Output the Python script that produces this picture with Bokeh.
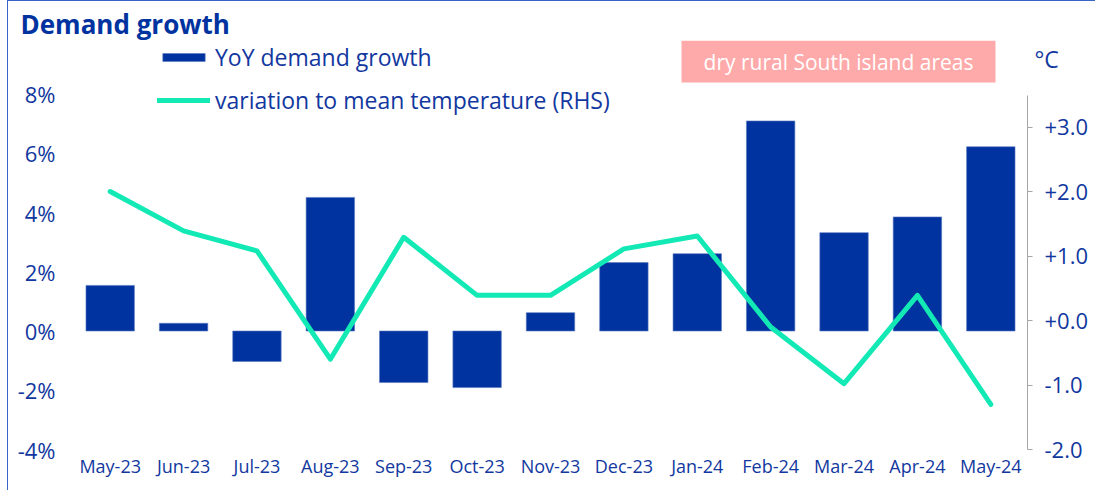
from bokeh.plotting import figure
from bokeh.models import (Range1d, LinearAxis, FixedTicker, CustomJSTickFormatter,
                          Legend, LegendItem, Label, BoxAnnotation, ColumnDataSource)
from bokeh.embed import file_html
from bokeh.resources import INLINE

# ---------------- data ----------------
months = ["May-23", "Jun-23", "Jul-23", "Aug-23", "Sep-23", "Oct-23", "Nov-23",
          "Dec-23", "Jan-24", "Feb-24", "Mar-24", "Apr-24", "May-24"]
demand_growth = [1.54, 0.26, -1.03, 4.51, -1.74, -1.91, 0.62, 2.31, 2.61, 7.09, 3.32, 3.85, 6.22]
temp_variation = [2.0, 1.39, 1.08, -0.60, 1.29, 0.39, 0.39, 1.11, 1.31, -0.10, -0.98, 0.39, -1.30]
left_ticks = [-4, -2, 0, 2, 4, 6, 8]
right_ticks = [-2, -1, 0, 1, 2, 3]

# ---------------- style ----------------
FONT = "Open Sans"
BLUE = "#0033A0"
TEXT = "#1238A0"
GREEN = "#12E9B4"
PINK = "#FFAAAA"
GRAY = "#A6A6A6"

# page-pixel geometry (annotations only)
FRAME_L, CAT_R, FRAME_EDGE = 73, 1027, 1095   # category area ends at CAT_R
FRAME_TOP, AXIS_BOT, FRAME_BOT = 40, 449, 490  # value axes end at AXIS_BOT
ZERO_L, PPU_L = 330.5, 29.625
ZERO_R, PPU_R = 320.0, 64.5
N = len(months)
PPX = (CAT_R - FRAME_L) / N

def px_x(px):
    return -0.5 + (px - FRAME_L) / PPX

def px_y(py):
    return (ZERO_L - py) / PPU_L

idx = list(range(N))
src = ColumnDataSource(dict(x=idx, demand=demand_growth, temp=temp_variation, m=months))

p = figure(frame_width=FRAME_EDGE - FRAME_L, frame_height=FRAME_BOT - FRAME_TOP,
           min_border_left=65, min_border_right=0,
           min_border_top=39, min_border_bottom=0,
           output_backend="svg", toolbar_location=None,
           x_range=Range1d(-0.5, px_x(FRAME_EDGE)),
           y_range=Range1d(px_y(FRAME_BOT), px_y(FRAME_TOP)))
p.extra_y_ranges = {"right": Range1d((ZERO_R - FRAME_BOT) / PPU_R, (ZERO_R - FRAME_TOP) / PPU_R)}
p.outline_line_color = None
p.xgrid.visible = False
p.ygrid.visible = False
p.background_fill_color = "white"
p.border_fill_color = "white"
p.styles = {"border-left": "1px solid #3A64C8", "border-top": "1px solid #3A64C8",
            "margin-left": "7px"}

# title
p.title.text = "Demand growth"
p.title.align = "left"
p.title.offset = 20 - FRAME_L
p.title.standoff = -3
p.title.text_font = FONT
p.title.text_font_size = "26px"
p.title.text_font_style = "bold"
p.title.text_color = BLUE

bars = p.vbar(x="x", top="demand", width=0.66, source=src, fill_color=BLUE,
              line_color="#5A78C0", line_width=0.6)
line = p.line(x="x", y="temp", source=src, y_range_name="right", line_color=GREEN,
              line_width=5, line_join="round", line_cap="round")

# x axis, pinned at the bottom of the value axes
xa = p.xaxis[0]
xa.fixed_location = left_ticks[0]
xa.ticker = FixedTicker(ticks=idx)
xa.major_label_overrides = {i: m for i, m in enumerate(months)}
xa.axis_line_color = None
xa.major_tick_line_color = None
xa.major_tick_out = 0
xa.major_tick_in = 0
xa.minor_tick_line_color = None
xa.major_label_standoff = 4
xa.major_label_text_font = FONT
xa.major_label_text_font_size = "18px"
xa.major_label_text_color = TEXT

# left axis
ya = p.yaxis[0]
ya.ticker = FixedTicker(ticks=left_ticks)
ya.formatter = CustomJSTickFormatter(code="return tick.toFixed(0) + '%';")
ya.axis_line_color = None
ya.major_tick_line_color = None
ya.major_tick_out = 0
ya.major_tick_in = 0
ya.minor_tick_line_color = None
ya.major_label_standoff = 18
ya.major_label_text_font = FONT
ya.major_label_text_font_size = "22px"
ya.major_label_text_color = TEXT

# right axis, pinned at the right end of the category area
ra = LinearAxis(y_range_name="right", ticker=FixedTicker(ticks=right_ticks),
                formatter=CustomJSTickFormatter(code="return (tick >= 0 ? '+' : '') + tick.toFixed(1);"),
                bounds=(right_ticks[0], 3.49), fixed_location=N - 0.5)
ra.axis_line_color = GRAY
ra.major_tick_line_color = GRAY
ra.major_tick_in = 0
ra.major_tick_out = 5
ra.minor_tick_line_color = None
ra.major_label_standoff = 12
ra.major_label_text_font = FONT
ra.major_label_text_font_size = "22px"
ra.major_label_text_color = TEXT
p.add_layout(ra, "right")

# legend
legend = Legend(items=[LegendItem(label="YoY demand growth", renderers=[bars]),
                       LegendItem(label="variation to mean temperature (RHS)", renderers=[line])],
                location=(157 - FRAME_L, FRAME_BOT - 116), padding=0, margin=0,
                border_line_color=None, background_fill_alpha=0,
                glyph_width=53, glyph_height=10, label_height=20, spacing=11,
                label_standoff=5, label_text_font=FONT, label_text_font_size="23px",
                label_text_color=TEXT)
p.add_layout(legend, "center")

# unit of the right axis
p.add_layout(Label(x=px_x(1034), y=px_y(58), text="°C", text_font=FONT,
                   text_font_size="23px", text_color=TEXT, text_align="left",
                   text_baseline="middle"))

# pink box with annotation text
p.add_layout(BoxAnnotation(left=px_x(681), right=px_x(995), top=px_y(40), bottom=px_y(82),
                           fill_color=PINK, fill_alpha=1, line_color=None))
p.add_layout(Label(x=px_x(838), y=px_y(61), text="dry rural South island areas",
                   text_font=FONT, text_font_size="21px", text_color="white",
                   text_align="center", text_baseline="middle"))

open("out.html", "w").write(file_html(p, INLINE))
